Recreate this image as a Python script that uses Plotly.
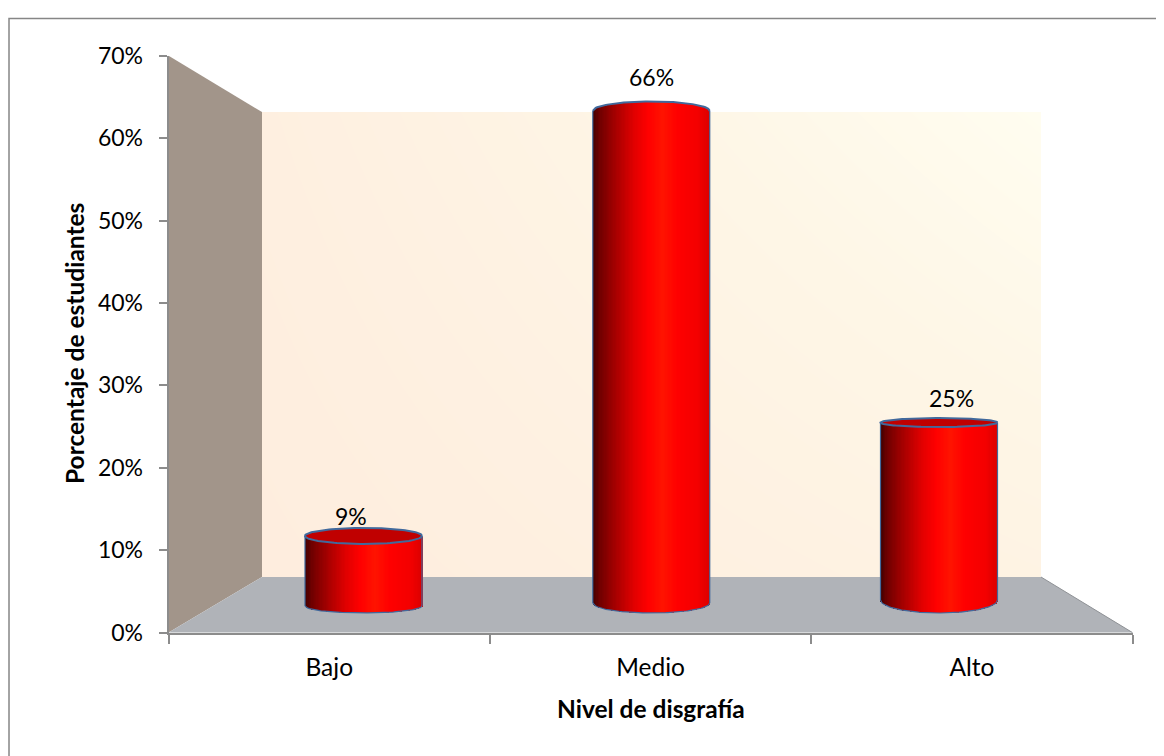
import numpy as np
import plotly.graph_objects as go

# ---- data ----
categories = ["Bajo", "Medio", "Alto"]
values = [9, 66, 25]
value_labels = ["9%", "66%", "25%"]
y_ticks = [0, 10, 20, 30, 40, 50, 60, 70]
y_ticklabels = ["0%", "10%", "20%", "30%", "40%", "50%", "60%", "70%"]
x_title = "Nivel de disgrafía"
y_title = "Porcentaje de estudiantes"

# ---- style / layout (page pixels; the page body has an 8 px margin) ----
PAGE_W, PAGE_H = 1164, 756
OFF = 8
W, H = PAGE_W - OFF, PAGE_H - OFF
FONT = "Lato"
AX = "#8C8C8C"
OUT = "#41699C"
PL, PR, PT, PB = 168.6, 1132.5, 55.8, 632.6       # front plot box
WL, WR, WT, WB = 262.0, 1041.0, 112.0, 577.0      # back wall
BAR_PX_X0, BAR_PX_DX = 363.5, 287.75              # bar centre px, spacing
BAR_HALF_PX = 58.5
V0_PX, V_SCALE = 603.0, 7.456                     # depth-plane value scale
TOP_HH_PX = [8.0, -9.5, 4.5]                      # top ellipse half height (neg: seen from below)
BOT_HH_PX = [7.0, 10.0, 13.0]
BOT_SHIFT = [-0.4, 0.0, 0.4]
TOP_SHIFT = [0.0, 0.0, -0.8]
LABEL_DX = [-13, 0, 12]
LABEL_DY = [20, 34, 25]
STRIPS = 90
GRAD_T = [-1.0, -0.88, -0.6, -0.3, -0.05, 0.2, 0.45, 0.8, 1.0]
GRAD_R = [0x40, 0x70, 0xA8, 0xE0, 0xFF, 0xFF, 0xFF, 0xF4, 0xDC]
GRAD_G = [0, 0, 0, 0, 0, 0x14, 0, 0, 0]


def px(x):
    return (x - OFF) / W


def py(y):
    return 1 - (y - OFF) / H


def vx(x_px):
    return (x_px - BAR_PX_X0) / BAR_PX_DX


def vy(y_px):
    return (V0_PX - y_px) / V_SCALE


fig = go.Figure()

# Back wall gradient (first subplot, so everything else is drawn above it)
fig.add_trace(go.Heatmap(
    x=[0, 1], y=[0, 1], z=[[0.0, 0.4], [0.15, 1.0]], zsmooth="best",
    colorscale=[[0, "#FEEDDE"], [0.6, "#FEF6E6"], [1, "#FFFDF0"]], showscale=False,
    hoverinfo="skip", xaxis="x", yaxis="y", zmin=0, zmax=1))

# Invisible trace: gives the visible category axis its categories
fig.add_trace(go.Scatter(x=categories, y=values, mode="markers", marker=dict(opacity=0),
                         showlegend=False, hoverinfo="skip", xaxis="x2", yaxis="y2"))

positions = list(range(len(categories)))
half = BAR_HALF_PX / BAR_PX_DX
edges = np.linspace(-1, 1, STRIPS + 1)
centers = (edges[:-1] + edges[1:]) / 2
strip_w = 2 * half / STRIPS

# Cylinder bodies: bars split into vertical strips for the shading
for t in centers:
    arc = np.sqrt(1 - t * t)
    r = int(np.interp(t, GRAD_T, GRAD_R))
    g = int(np.interp(t, GRAD_T, GRAD_G))
    base = [BOT_SHIFT[i] - BOT_HH_PX[i] / V_SCALE * arc for i in positions]
    top = [values[i] + TOP_SHIFT[i] - TOP_HH_PX[i] / V_SCALE * arc for i in positions]
    fig.add_trace(go.Bar(
        x=positions, y=[top[i] - base[i] for i in positions], base=base,
        width=strip_w * 1.25, offset=t * half - strip_w * 0.6,
        marker=dict(color=f"rgb({r},{g},0)", line=dict(width=0)),
        showlegend=False, hoverinfo="skip", xaxis="x3", yaxis="y3"))

# Top faces and outlines
th = np.linspace(0, 2 * np.pi, 121)
ta = np.linspace(-1, 1, 81)
for i in positions:
    c = values[i] + TOP_SHIFT[i]
    b = BOT_SHIFT[i]
    hh = TOP_HH_PX[i] / V_SCALE
    bh = BOT_HH_PX[i] / V_SCALE
    line = dict(color=OUT, width=1.2)
    # sides
    fig.add_trace(go.Scatter(x=[i - half, i - half, None, i + half, i + half], y=[b, c, None, b, c],
                             mode="lines", line=line, showlegend=False, hoverinfo="skip",
                             xaxis="x3", yaxis="y3"))
    # bottom arc
    fig.add_trace(go.Scatter(x=i + half * ta, y=b - bh * np.sqrt(1 - ta * ta),
                             mode="lines", line=line, showlegend=False, hoverinfo="skip",
                             xaxis="x3", yaxis="y3"))
    if hh > 0:
        fig.add_trace(go.Scatter(x=i + half * np.cos(th), y=c + hh * np.sin(th),
                                 mode="lines", fill="toself", fillcolor="#C00000",
                                 line=dict(color=OUT, width=2), showlegend=False, hoverinfo="skip",
                                 xaxis="x3", yaxis="y3"))
    else:
        fig.add_trace(go.Scatter(x=i + half * ta, y=c - hh * np.sqrt(1 - ta * ta),
                                 mode="lines", line=dict(color=OUT, width=2),
                                 showlegend=False, hoverinfo="skip", xaxis="x3", yaxis="y3"))

annotations = [
    dict(x=i, y=values[i] + TOP_SHIFT[i], xref="x3", yref="y3", text=value_labels[i], showarrow=False,
         xshift=LABEL_DX[i], yshift=LABEL_DY[i], yanchor="middle", xanchor="center",
         font=dict(family=FONT, size=23, color="#000000"))
    for i in positions
]
annotations += [
    dict(x=px(650.5), y=py(708), xref="paper", yref="paper", text=f"<b>{x_title}</b>", showarrow=False,
         xanchor="center", yanchor="middle", font=dict(family=FONT, size=24.5, color="#000000")),
    dict(x=px(74), y=py(344), xref="paper", yref="paper", text=f"<b>{y_title}</b>", showarrow=False,
         xanchor="center", yanchor="middle", textangle=-90,
         font=dict(family=FONT, size=24.5, color="#000000")),
]


def poly(points, fill):
    d = "M " + " L ".join(f"{px(a):.5f},{py(b):.5f}" for a, b in points) + " Z"
    return dict(type="path", path=d, xref="paper", yref="paper", fillcolor=fill,
                line=dict(width=0), layer="below")


shapes = [
    poly([(PL, PT), (WL, WT), (WL, WB), (PL, PB)], "#A2958A"),
    poly([(PL, PB), (WL, WB), (WR, WB), (PR, PB)], "#B0B3B8"),
    dict(type="path", path=f"M {px(WR):.5f},{py(WB):.5f} L {px(PR):.5f},{py(PB):.5f}",
         xref="paper", yref="paper", line=dict(color="#8F9296", width=1), layer="below"),
    dict(type="path", path=f"M {px(9):.5f},0 L {px(9):.5f},{py(18.5):.5f} L 1,{py(18.5):.5f}",
         xref="paper", yref="paper", line=dict(color="#868686", width=1.5), layer="below"),
]

fig.update_layout(
    width=W, height=H, margin=dict(l=0, r=0, t=0, b=0, autoexpand=False),
    paper_bgcolor="#FFFFFF", plot_bgcolor="rgba(0,0,0,0)",
    barmode="overlay", bargap=0, showlegend=False,
    shapes=shapes, annotations=annotations,
    font=dict(family=FONT, size=23, color="#000000"),
    xaxis=dict(domain=[px(WL), px(WR)], range=[0, 1], visible=False, fixedrange=True),
    yaxis=dict(domain=[py(WB), py(WT)], range=[0, 1], visible=False, fixedrange=True),
    xaxis2=dict(domain=[px(PL), px(PR)], anchor="y2", type="category", categoryorder="array",
                categoryarray=categories, range=[-0.5, 2.5], tickson="boundaries", ticks="outside",
                ticklen=9, tickwidth=1.5, tickcolor=AX, showline=True, linecolor=AX, linewidth=2,
                showgrid=False, zeroline=False, tickfont=dict(family=FONT, size=24.5),
                ticklabelstandoff=12, fixedrange=True),
    yaxis2=dict(domain=[py(PB), py(PT)], anchor="x2", range=[0, 70], tickvals=y_ticks,
                ticktext=y_ticklabels, ticks="outside", ticklen=8, tickwidth=1.5, tickcolor=AX,
                showline=True, linecolor=AX, linewidth=2, showgrid=False, zeroline=False,
                tickfont=dict(family=FONT, size=23), ticklabelstandoff=11, fixedrange=True),
    xaxis3=dict(overlaying="x2", anchor="y3", range=[vx(PL), vx(PR)], visible=False, fixedrange=True),
    yaxis3=dict(overlaying="y2", anchor="x3", range=[vy(PB), vy(PT)], visible=False, fixedrange=True),
)

fig.write_html("out.html")
